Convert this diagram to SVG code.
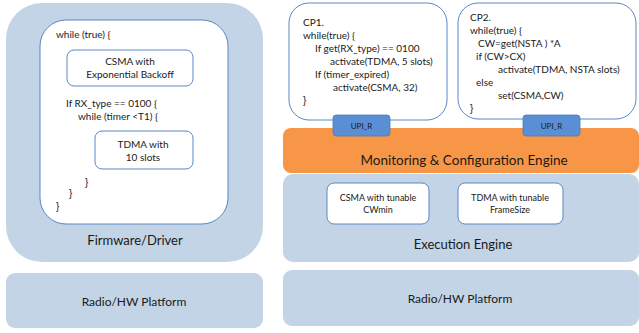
<svg xmlns="http://www.w3.org/2000/svg" width="639" height="333" viewBox="0 0 639 333">
<style>
text{font-family:Lato,"Liberation Sans",sans-serif;fill:#1a1a1a}
.bg{fill:#C2D4E5}
.wb{fill:#fff;stroke:#5B87C5;stroke-width:1}
.c{font-size:10px}
.b{font-size:10px;font-family:"Liberation Sans",sans-serif}
.s{font-size:9px;text-anchor:middle}
.m{text-anchor:middle}
.L{font-size:13px}
.upi{fill:#5A8FD6;stroke:#4A7BC0;stroke-width:0.8}
.u{font-size:8px;text-anchor:middle;fill:#1a1a1a}
</style>
<rect width="639" height="333" fill="#fff"/>
<g id="firmware">
<rect class="bg" x="6" y="3" width="257" height="259" rx="36"/>
<rect class="wb" x="40" y="20" width="188" height="204" rx="26"/>
<text class="c" x="56" y="38">while (true) {</text>
<text class="c" x="66" y="107">If RX_type == 0100 {</text>
<text class="c" x="78" y="120">while (timer &lt;T1) {</text>
<text class="b" x="85" y="186">}</text>
<text class="b" x="69" y="197">}</text>
<text class="b" x="56" y="210">}</text>
<text class="L m" x="135" y="245">Firmware/Driver</text>
</g>
<g id="csma-exp">
<rect class="wb" x="67" y="50" width="126" height="36" rx="7"/>
<text class="c m" x="130" y="65">CSMA with</text>
<text class="c m" x="130" y="78">Exponential Backoff</text>
</g>
<g id="tdma-10">
<rect class="wb" x="95" y="131" width="98" height="38" rx="7"/>
<text class="c m" x="143" y="148">TDMA with</text>
<text class="c m" x="143" y="161">10 slots</text>
</g>
<g id="radio-left">
<rect class="bg" x="6" y="273" width="257" height="55" rx="9"/>
<text class="L m" x="134" y="306" style="font-size:12px">Radio/HW Platform</text>
</g>
<g id="execution">
<rect class="bg" x="283" y="174" width="356" height="88" rx="10"/>
<text class="L m" x="463" y="249">Execution Engine</text>
</g>
<g id="csma-tunable">
<rect class="wb" x="327" y="183" width="102" height="41" rx="7"/>
<text class="s" x="378" y="201">CSMA with tunable</text>
<text class="s" x="378" y="213">CWmin</text>
</g>
<g id="tdma-tunable">
<rect class="wb" x="458" y="183" width="105" height="41" rx="7"/>
<text class="s" x="510" y="201">TDMA with tunable</text>
<text class="s" x="510" y="213">FrameSize</text>
</g>
<g id="monitoring">
<rect x="283" y="128" width="356" height="45" rx="8" fill="#F79646"/>
<text class="L m" x="464" y="165" style="font-size:13.5px">Monitoring &amp; Configuration Engine</text>
</g>
<g id="cp1">
<rect class="wb" x="289" y="3" width="158" height="117" rx="20"/>
<text class="c" x="303" y="26">CP1.</text>
<text class="c" x="303" y="39">while(true) {</text>
<text class="c" x="315" y="52">If  get(RX_type) == 0100</text>
<text class="c" x="330" y="65">activate(TDMA, 5 slots)</text>
<text class="c" x="315" y="78">If (timer_expired)</text>
<text class="c" x="333" y="91">activate(CSMA, 32)</text>
<text class="b" x="303" y="104">}</text>
</g>
<g id="cp2">
<rect class="wb" x="458" y="3" width="178" height="116" rx="20"/>
<text class="c" x="470" y="21">CP2.</text>
<text class="c" x="470" y="34">while(true) {</text>
<text class="c" x="478" y="47">CW=get(NSTA ) *A</text>
<text class="c" x="476" y="60">if (CW&gt;CX)</text>
<text class="c" x="498" y="73">activate(TDMA, NSTA slots)</text>
<text class="c" x="476" y="86">else</text>
<text class="c" x="498" y="99">set(CSMA,CW)</text>
<text class="b" x="470" y="112">}</text>
</g>
<g id="upi1">
<rect class="upi" x="333" y="115" width="57" height="21" rx="3"/>
<text class="u" x="361.5" y="129">UPI_R</text>
</g>
<g id="upi2">
<rect class="upi" x="523" y="115" width="57" height="21" rx="3"/>
<text class="u" x="551.5" y="129">UPI_R</text>
</g>
<g id="radio-right">
<rect class="bg" x="283" y="270" width="356" height="56" rx="9"/>
<text class="L m" x="460" y="303" style="font-size:12px">Radio/HW Platform</text>
</g>
<g id="connectors"></g>
</svg>
